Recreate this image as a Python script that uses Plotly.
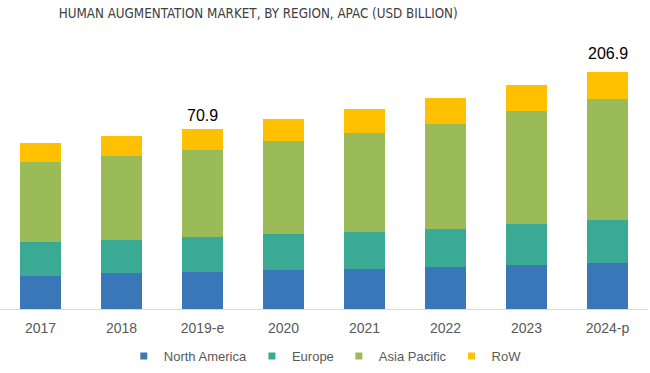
import plotly.graph_objects as go

years = ["2017", "2018", "2019-e", "2020", "2021", "2022", "2023", "2024-p"]
north_america = [13.1, 14.2, 14.7, 15.2, 15.6, 16.5, 17.3, 18.0]
europe = [13.1, 13.0, 13.5, 14.3, 14.7, 15.1, 16.0, 17.0]
asia_pacific = [31.7, 33.0, 34.3, 36.7, 38.9, 41.3, 44.5, 47.6]
row = [7.4, 7.9, 8.4, 8.5, 9.4, 10.1, 10.3, 10.7]
total_labels = ["", "", "70.9", "", "", "", "", "206.9"]

series = [
    ("North America", north_america, "#3A77B8"),
    ("Europe", europe, "#3BAA94"),
    ("Asia Pacific", asia_pacific, "#9BBB59"),
    ("RoW", row, "#FFC000"),
]

fig = go.Figure()
for name, vals, color in series:
    fig.add_trace(go.Bar(
        x=years, y=vals, name=name, marker=dict(color=color, line=dict(width=0)),
        showlegend=False, width=0.5,
    ))
for name, vals, color in series:
    fig.add_trace(go.Scatter(
        x=[None], y=[None], mode="markers", name=name,
        marker=dict(symbol="square", size=7, color=color),
    ))

totals = [a + b + c + d for a, b, c, d in zip(north_america, europe, asia_pacific, row)]
shifts = [0, 0, 3, 0, 0, 0, 0, 8]
for yr, tot, lab, sh in zip(years, totals, total_labels, shifts):
    if lab:
        fig.add_annotation(
            x=yr, y=tot, text=lab, showarrow=False, yanchor="bottom", yshift=sh,
            font=dict(family="Liberation Sans, Arial, sans-serif", size=16, color="#000000"),
        )

fig.update_layout(
    width=650, height=373,
    barmode="stack",
    bargap=0.5,
    plot_bgcolor="white", paper_bgcolor="white",
    margin=dict(l=0, r=2, t=40, b=64),
    title=dict(
        text="HUMAN AUGMENTATION MARKET, BY REGION, APAC (USD BILLION)",
        x=259 / 650, xanchor="center", xref="paper", y=0.965, yanchor="middle",
        font=dict(family="Liberation Sans Narrow, DejaVu Sans Condensed, sans-serif", size=13.3, color="#404040"),
    ),
    xaxis=dict(
        showline=True, linecolor="#D9D9D9", linewidth=1,
        ticks="", ticklabelstandoff=6,
        tickfont=dict(family="Liberation Sans, Arial, sans-serif", size=14, color="#595959"),
        showgrid=False,
    ),
    yaxis=dict(
        range=[0, 105.8], showticklabels=False, showgrid=False, zeroline=False, showline=False,
    ),
    legend=dict(
        orientation="h", x=0.502, xanchor="center", y=-0.175, yanchor="middle",
        traceorder="normal",
        font=dict(family="Liberation Sans, Arial, sans-serif", size=13, color="#595959"),
        itemwidth=30, tracegroupgap=0,
    ),
)

fig.write_html(
    "out.html",
    config={"displayModeBar": False},
    post_script="document.body.style.margin='0';",
)
